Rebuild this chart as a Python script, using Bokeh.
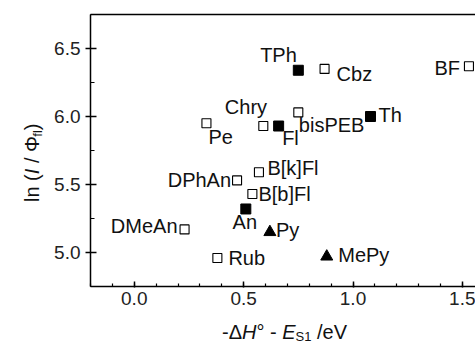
from bokeh.plotting import figure
from bokeh.models import (ColumnDataSource, LabelSet, Label, LinearAxis, Range1d,
                          SingleIntervalTicker, NumeralTickFormatter, FixedTicker)
from bokeh.core.properties import value
from bokeh.embed import file_html
from bokeh.resources import INLINE

# ---------------- data ----------------
open_names = ["Cbz", "BF", "bisPEB", "Chry", "Pe", "B[k]Fl", "DPhAn", "B[b]Fl", "Rub", "DMeAn"]
open_x = [0.87, 1.53, 0.75, 0.59, 0.33, 0.57, 0.47, 0.54, 0.38, 0.23]
open_y = [6.35, 6.37, 6.03, 5.93, 5.95, 5.59, 5.53, 5.43, 4.96, 5.17]

filled_names = ["TPh", "Fl", "Th", "An"]
filled_x = [0.75, 0.66, 1.08, 0.51]
filled_y = [6.34, 5.93, 6.00, 5.32]

tri_names = ["Py", "MePy"]
tri_x = [0.62, 0.88]
tri_y = [5.15, 4.97]

x_ticks = [0.0, 0.5, 1.0, 1.5]
y_ticks = [5.0, 5.5, 6.0, 6.5]

# ---------------- layout of the point labels (align, dx px, dy px up) ----------------
LABEL_POS = {
    "TPh": ("right", -1.5, 8.5),
    "Cbz": ("left", 12, -12.5),
    "BF": ("right", -9, -9),
    "bisPEB": ("left", 0.5, -20),
    "Chry": ("left", -38.5, 12.5),
    "Fl": ("left", 3.5, -19),
    "Th": ("left", 8, -5),
    "Pe": ("left", 2, -21),
    "B[k]Fl": ("left", 8.5, -3),
    "DPhAn": ("right", -6, -7),
    "B[b]Fl": ("left", 6, -7),
    "An": ("center", -1, -20),
    "Py": ("left", 6, -4.5),
    "MePy": ("left", 11.5, -5),
    "Rub": ("left", 11, -7),
    "DMeAn": ("right", -7, -3.5),
}

FONT = "Arial"
W_PX, H_PX = 475, 344
# axes box (data) and where it sits on the canvas (px)
AX_X0, AX_X1 = -0.2, 1.56
AX_Y0, AX_Y1 = 4.75, 6.75
BOX_L, BOX_T, BOX_B = 90, 14, 286          # px from left / top
ppx = (W_PX - BOX_L) / (AX_X1 - AX_X0)     # px per x unit
ppy = (BOX_B - BOX_T) / (AX_Y1 - AX_Y0)    # px per y unit
XS = AX_X0 - BOX_L / ppx
YE = AX_Y1 + BOX_T / ppy
YS = AX_Y0 - (H_PX - BOX_B) / ppy

p = figure(width=W_PX, height=H_PX, output_backend="svg", toolbar_location=None,
           x_range=Range1d(XS, AX_X1), y_range=Range1d(YS, YE),
           x_axis_type=None, y_axis_type=None,
           min_border_left=0, min_border_right=0, min_border_top=0, min_border_bottom=0)
p.outline_line_color = None
p.xgrid.visible = False
p.ygrid.visible = False
p.background_fill_color = "white"
p.border_fill_color = "white"

AX_W = 1.5

xaxis = LinearAxis(ticker=SingleIntervalTicker(interval=0.5, num_minor_ticks=5),
                   formatter=NumeralTickFormatter(format="0.0"),
                   fixed_location=AX_Y0, bounds=(AX_X0, AX_X1))
xaxis.major_tick_in = 5
xaxis.major_tick_out = 1
xaxis.minor_tick_in = 3
xaxis.minor_tick_out = 0
xaxis.major_label_standoff = 4
p.add_layout(xaxis, "below")

yaxis = LinearAxis(ticker=SingleIntervalTicker(interval=0.5, num_minor_ticks=2),
                   formatter=NumeralTickFormatter(format="0.0"),
                   fixed_location=AX_X0, bounds=(AX_Y0, AX_Y1))
yaxis.major_tick_in = 6
yaxis.major_tick_out = 5
yaxis.minor_tick_in = 4
yaxis.minor_tick_out = 0
yaxis.major_label_standoff = 5
p.add_layout(yaxis, "left")

top = LinearAxis(ticker=FixedTicker(ticks=[]), fixed_location=AX_Y1, bounds=(AX_X0, AX_X1))
top.major_tick_in = 0
top.major_tick_out = 0
top.minor_tick_in = 0
top.minor_tick_out = 0
top.major_label_standoff = 0
p.add_layout(top, "above")

for ax in (xaxis, yaxis, top):
    ax.axis_line_width = AX_W
    ax.axis_line_color = "black"
    ax.major_tick_line_width = AX_W
    ax.minor_tick_line_width = 1.2
    ax.major_tick_line_color = "black"
    ax.minor_tick_line_color = "black"
    ax.major_label_text_font = FONT
    ax.major_label_text_font_size = "19px"
    ax.major_label_text_color = "#222222"

# ---------------- markers ----------------
open_src = ColumnDataSource(dict(x=open_x, y=open_y, name=open_names))
filled_src = ColumnDataSource(dict(x=filled_x, y=filled_y, name=filled_names))
tri_src = ColumnDataSource(dict(x=tri_x, y=tri_y, name=tri_names))

p.scatter("x", "y", source=open_src, marker="square", size=9,
          fill_color="white", line_color="black", line_width=1.1)
p.scatter("x", "y", source=filled_src, marker="square", size=10,
          fill_color="black", line_color="black", line_width=1)
p.scatter("x", "y", source=tri_src, marker="triangle", size=12,
          fill_color="black", line_color="black", line_width=1)

# ---------------- point labels ----------------
all_names = open_names + filled_names + tri_names
all_x = open_x + filled_x + tri_x
all_y = open_y + filled_y + tri_y
lab_src = ColumnDataSource(dict(
    x=all_x, y=all_y, name=all_names,
    align=[LABEL_POS[n][0] for n in all_names],
    dx=[LABEL_POS[n][1] for n in all_names],
    dy=[LABEL_POS[n][2] for n in all_names],
))
labels = LabelSet(x="x", y="y", text="name", source=lab_src,
                  x_offset="dx", y_offset="dy", text_align="align",
                  text_baseline="alphabetic", text_font=value(FONT),
                  text_font_size=value("20px"), text_color="#111111")
p.add_layout(labels)

# ---------------- axis titles built from pieces ----------------
W = {'-': 333, 'Δ': 668, 'H': 722, '°': 400, ' ': 278, 'E': 667, 'S': 667, '1': 556,
     '/': 278, 'e': 556, 'V': 667, 'l': 222, 'n': 556, '(': 333, ')': 333, 'I': 278,
     'Φ': 764, 'f': 278}


def tw(s, size):
    return sum(W.get(c, 556) for c in s) * size / 1000.0


def add_piece(text, xo, yo, size, style="normal", angle=0.0):
    p.add_layout(Label(x=AX_X0, y=AX_Y0, x_units="data", y_units="data",
                       x_offset=xo, y_offset=yo, text=text, angle=angle,
                       text_font=FONT, text_font_size=f"{size}px",
                       text_font_style=style, text_baseline="alphabetic",
                       text_align="left", text_color="#111111"))


SP = tw(" ", 20)
# x title: -ΔH° - E_S1 /eV   (pieces, gap before piece in px, size, style, baseline shift)
xt = [("-Δ", 0, 20, "normal", 0), ("H", 0, 20, "italic", 0), ("°", 0, 20, "normal", 0),
      ("-", SP, 20, "normal", 0), ("E", SP, 20, "italic", 0), ("S1", 0, 13, "normal", -4),
      ("/eV", SP, 20, "normal", 0)]
cx = 131.5
for t, gap, s, st, sh in xt:
    cx += gap
    add_piece(t, cx, -45.5 + sh, s, st)
    cx += tw(t, s)

# y title: ln (I / Φ_fl)  (rotated)
yt = [("ln (", 0, 20, "normal", 0), ("I", 0, 20, "italic", 0), ("/ Φ", SP, 20, "normal", 0),
      ("fl", 0, 13, "normal", 5), (")", 0, 20, "normal", 0)]
cy = 84.5
for t, gap, s, st, sh in yt:
    cy += gap
    add_piece(t, -58.5 + sh, cy, s, st, angle=1.5707963267948966)
    cy += tw(t, s)

open("out.html", "w").write(file_html(p, INLINE))
